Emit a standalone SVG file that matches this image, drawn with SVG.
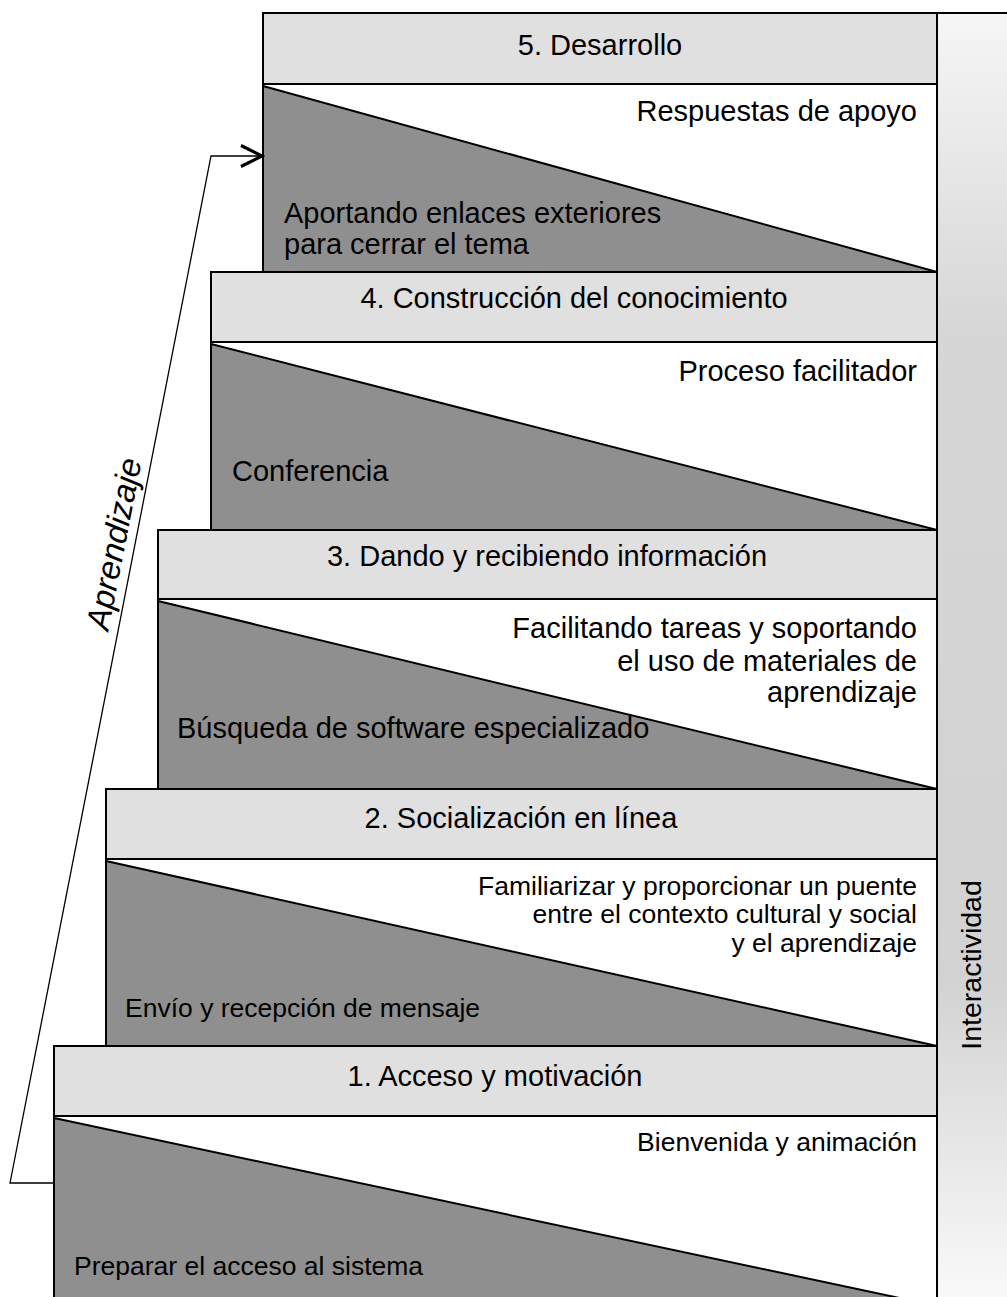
<svg xmlns="http://www.w3.org/2000/svg" width="1007" height="1297" viewBox="0 0 1007 1297">
<defs>
<linearGradient id="bar" x1="0" y1="0" x2="0" y2="1">
<stop offset="0" stop-color="#f6f6f6"/>
<stop offset="0.25" stop-color="#d6d6d6"/>
<stop offset="0.75" stop-color="#d2d2d2"/>
<stop offset="1" stop-color="#f9f9f9"/>
</linearGradient>
<marker id="arr" markerWidth="26" markerHeight="26" refX="23" refY="12" orient="auto" markerUnits="userSpaceOnUse" viewBox="0 0 26 26">
<path d="M2,1.5 L23,12 L2,22.5" fill="none" stroke="#000" stroke-width="3.2"/>
</marker>
<style>
.hdr{fill:#e0e0e0;stroke:#000;stroke-width:2}
.area{fill:#fff;stroke:#000;stroke-width:2}
.tri{fill:#8f8f8f;stroke:#000;stroke-width:2;stroke-linejoin:miter}
text{font-family:"Liberation Sans",Arial,sans-serif;fill:#000}
.ht{text-anchor:middle;font-size:29px}
.bt{font-size:29px}
.st{font-size:26.5px}
.r{text-anchor:end}
</style>
</defs>
<rect x="0" y="0" width="1007" height="1297" fill="#fff"/>
<rect x="937" y="13" width="70" height="1284" fill="url(#bar)"/>
<line x1="937" y1="13" x2="1007" y2="13" stroke="#000" stroke-width="2"/>
<text x="0" y="0" transform="translate(981,965) rotate(-90)" style="font-size:28.5px;text-anchor:middle">Interactividad</text>

<g id="node5">
<rect class="area" x="263" y="84" width="674" height="188"/>
<polygon class="tri" points="263,86 937,272 263,272"/>
<rect class="hdr" x="263" y="13" width="674" height="71"/>
<text class="ht" x="600" y="55">5. Desarrollo</text>
<text class="bt r" x="917" y="121">Respuestas de apoyo</text>
<text class="bt" x="284" y="223">Aportando enlaces exteriores</text>
<text class="bt" x="284" y="254">para cerrar el tema</text>
</g>

<g id="node4">
<rect class="area" x="211" y="342" width="726" height="188"/>
<polygon class="tri" points="211,344 937,530 211,530"/>
<rect class="hdr" x="211" y="272" width="726" height="70"/>
<text class="ht" x="574" y="308">4. Construcción del conocimiento</text>
<text class="bt r" x="917" y="381">Proceso facilitador</text>
<text class="bt" x="232" y="481">Conferencia</text>
</g>

<g id="node3">
<rect class="area" x="158" y="599" width="779" height="190"/>
<polygon class="tri" points="158,601 937,789 158,789"/>
<rect class="hdr" x="158" y="530" width="779" height="69"/>
<text class="ht" x="547" y="566">3. Dando y recibiendo información</text>
<text class="bt r" x="917" y="638">Facilitando tareas y soportando</text>
<text class="bt r" x="917" y="671">el uso de materiales de</text>
<text class="bt r" x="917" y="702">aprendizaje</text>
<text class="bt" x="177" y="738">Búsqueda de software especializado</text>
</g>

<g id="node2">
<rect class="area" x="106" y="859" width="831" height="187"/>
<polygon class="tri" points="106,861 937,1046 106,1046"/>
<rect class="hdr" x="106" y="789" width="831" height="70"/>
<text class="ht" x="521" y="828">2. Socialización en línea</text>
<text class="st r" x="917" y="895">Familiarizar y proporcionar un puente</text>
<text class="st r" x="917" y="923">entre el contexto cultural y social</text>
<text class="st r" x="917" y="952">y el aprendizaje</text>
<text class="st" x="125" y="1017">Envío y recepción de mensaje</text>
</g>

<g id="node1">
<rect class="area" x="54" y="1116" width="883" height="190"/>
<polygon class="tri" points="54,1118 937,1306 54,1306"/>
<rect class="hdr" x="54" y="1046" width="883" height="70"/>
<text class="ht" x="495" y="1086">1. Acceso y motivación</text>
<text class="st r" x="917" y="1151">Bienvenida y animación</text>
<text class="st" x="74" y="1275">Preparar el acceso al sistema</text>
</g>

<g id="connectors">
<polyline points="54,1183 10,1183 211,156 262,156" fill="none" stroke="#000" stroke-width="1.3" marker-end="url(#arr)"/>
<text x="0" y="0" transform="translate(125,546) rotate(-78.9)" style="font-size:33px;font-style:italic;text-anchor:middle">Aprendizaje</text>
</g>
</svg>
